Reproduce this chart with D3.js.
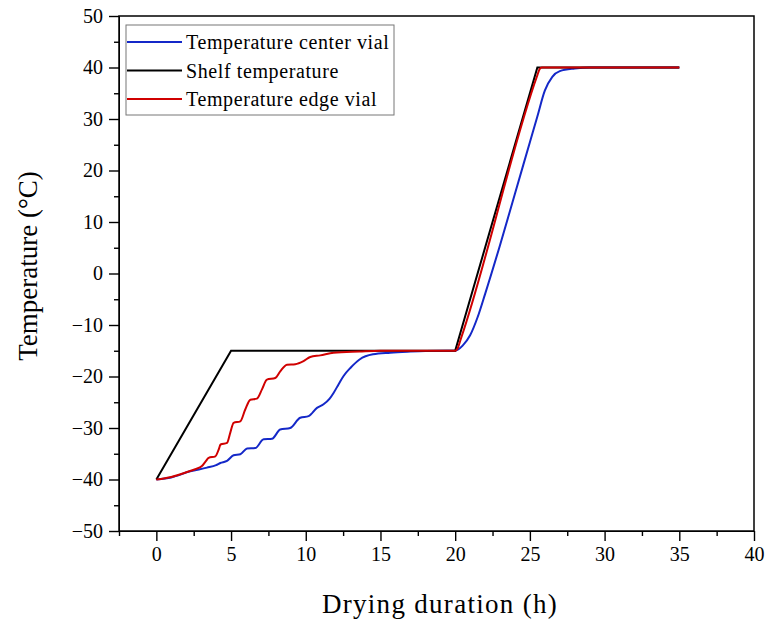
<!DOCTYPE html>
<html>
<head>
<meta charset="utf-8">
<script src="https://cdn.jsdelivr.net/npm/d3@7"></script>
<style>
  body { margin: 0; background: #fff; }
  svg { display: block; }
  text { font-family: "Palatino Linotype", "Book Antiqua", Palatino, "Liberation Serif", "DejaVu Serif", serif; }
</style>
</head>
<body>
<div id="chart"></div>
<script>
// Drying run: shelf vs. product temperatures
const shelfTemp = [[0, -40], [5, -15], [20, -15], [25.5, 40], [35, 40]];

const edgeVial = [
  [0, -40], [1, -39.5], [2, -38.6], [2.6, -38], [3.05, -37.4], [3.3, -36.5], [3.5, -35.8],
  [3.95, -35.5], [4.17, -34.2], [4.3, -33.2], [4.73, -32.9], [4.95, -30.9], [5.17, -29],
  [5.62, -28.7], [5.95, -26.4], [6.29, -24.5], [6.73, -24.3], [7.07, -22.5], [7.4, -20.6],
  [7.96, -20.3], [8.29, -19], [8.74, -17.7], [9.3, -17.6], [9.85, -17.0], [10.3, -16.2],
  [10.97, -15.9], [11.86, -15.4], [13.6, -15.15], [15, -15], [20, -15],
  [20.15, -14.6], [20.4, -12.5], [25.5, 38.5], [25.65, 39.7], [25.8, 40], [35, 40]
];

const centerVial = [
  [0, -40], [1, -39.6], [2.27, -38.4], [3.39, -37.7], [4.0, -37.2], [4.28, -36.8],
  [4.73, -36.4], [5.17, -35.3], [5.62, -35.1], [6.07, -34.0], [6.62, -33.9], [7.18, -32.2],
  [7.74, -32.1], [8.29, -30.3], [8.96, -30.0], [9.63, -28.0], [10.19, -27.7], [10.75, -26.1],
  [11.19, -25.4], [11.6, -24.3], [11.86, -23.2], [12.2, -21.5], [12.53, -19.9], [13.0, -18.3],
  [13.6, -16.7], [14.5, -15.7], [15.65, -15.4], [16.8, -15.2], [18, -15.05], [20, -15],
  [20.5, -14], [21, -12], [21.5, -8.5], [22, -4], [23, 5.5], [24, 15.5], [25, 25.5],
  [25.5, 30.5], [26, 35.5], [26.5, 38.2], [27, 39.3], [28, 39.8], [29, 40], [35, 40]
];

const xTicks = [0, 5, 10, 15, 20, 25, 30, 35, 40];
const yTicks = [-50, -40, -30, -20, -10, 0, 10, 20, 30, 40, 50];

const series = [
  { name: 'Temperature center vial', color: '#1428c8', data: centerVial, curve: d3.curveMonotoneX },
  { name: 'Shelf temperature', color: '#000000', data: shelfTemp, curve: d3.curveLinear },
  { name: 'Temperature edge vial', color: '#d00000', data: edgeVial, curve: d3.curveMonotoneX }
];

const width = 766, height = 623;
const margin = { top: 16, right: 12, bottom: 92, left: 119 };

const svg = d3.select('#chart').append('svg')
  .attr('width', width)
  .attr('height', height);

const x = d3.scaleLinear().domain([-2.5, 40]).range([margin.left, width - margin.right]);
const y = d3.scaleLinear().domain([-50, 50]).range([height - margin.bottom, margin.top]);

// minor ticks
const xMinor = d3.range(-2.5, 40.01, 2.5).filter(v => !xTicks.includes(v));
const yMinor = d3.range(-45, 50, 10);

svg.append('g')
  .attr('transform', `translate(0,${y(-50)})`)
  .call(d3.axisBottom(x).tickValues(xMinor).tickSize(5).tickFormat(''))
  .call(g => g.select('.domain').remove());
svg.append('g')
  .attr('transform', `translate(${x(-2.5)},0)`)
  .call(d3.axisLeft(y).tickValues(yMinor).tickSize(5).tickFormat(''))
  .call(g => g.select('.domain').remove());

const xAxis = svg.append('g')
  .attr('transform', `translate(0,${y(-50)})`)
  .call(d3.axisBottom(x).tickValues(xTicks).tickSize(10).tickPadding(6).tickSizeOuter(0));
const yAxis = svg.append('g')
  .attr('transform', `translate(${x(-2.5)},0)`)
  .call(d3.axisLeft(y).tickValues(yTicks).tickSize(10).tickPadding(6).tickSizeOuter(0));

[xAxis, yAxis].forEach(a => {
  a.selectAll('text').attr('font-size', 20).attr('fill', '#000')
    .style('font-family', '"Palatino Linotype", "Book Antiqua", Palatino, "Liberation Serif", serif');
});
svg.selectAll('.tick line').attr('stroke-width', 1.4);

// frame
svg.append('rect')
  .attr('x', x(-2.5)).attr('y', y(50))
  .attr('width', x(40) - x(-2.5)).attr('height', y(-50) - y(50))
  .attr('fill', 'none').attr('stroke', '#000').attr('stroke-width', 1.5);

// lines
const line = d3.line().x(d => x(d[0])).y(d => y(d[1]));
series.forEach(s => {
  svg.append('path')
    .datum(s.data)
    .attr('fill', 'none')
    .attr('stroke', s.color)
    .attr('stroke-width', 2)
    .attr('d', line.curve(s.curve));
});

// legend
const legend = svg.append('g').attr('transform', 'translate(126,25)');
legend.append('rect')
  .attr('width', 268).attr('height', 90)
  .attr('fill', '#fff').attr('stroke', '#777').attr('stroke-width', 1);
series.forEach((s, i) => {
  const ly = 17 + i * 28.5;
  legend.append('line')
    .attr('x1', 1).attr('x2', 56).attr('y1', ly).attr('y2', ly)
    .attr('stroke', s.color).attr('stroke-width', 2);
  legend.append('text')
    .attr('x', 60).attr('y', ly + 7)
    .attr('font-size', 20)
    .attr('letter-spacing', 0.6)
    .text(s.name);
});

// axis titles
svg.append('text')
  .attr('x', 440).attr('y', 613)
  .attr('text-anchor', 'middle').attr('font-size', 27)
  .attr('letter-spacing', 1.3)
  .text('Drying duration (h)');
svg.append('text')
  .attr('transform', 'translate(37,266) rotate(-90)')
  .attr('text-anchor', 'middle').attr('font-size', 27)
  .text('Temperature (°C)');
</script>
</body>
</html>
